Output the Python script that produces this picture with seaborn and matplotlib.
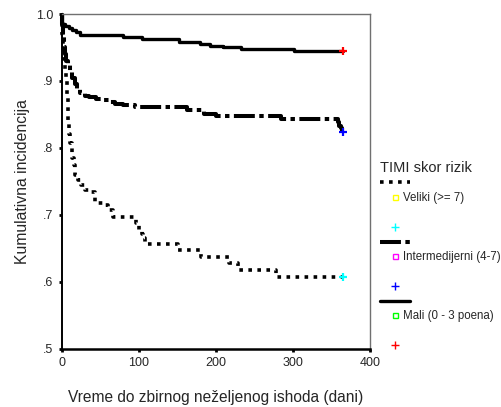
import numpy as np
import pandas as pd
import matplotlib
matplotlib.use("Agg")
import matplotlib.pyplot as plt
from matplotlib.lines import Line2D
import seaborn as sns

# Kaplan-Meier style step curves for the three TIMI risk groups
veliki_t = [0, 1, 2, 3, 4.5, 6, 7, 8, 9, 10, 11, 13, 14, 16, 18, 21, 25, 30, 38,
            43, 55, 60, 67, 97, 100, 104, 106, 108, 151, 181, 217, 229, 278, 365]
veliki_v = [1.0, 0.97, 0.95, 0.93, 0.916, 0.90, 0.88, 0.855, 0.835, 0.82, 0.807,
            0.795, 0.785, 0.775, 0.76, 0.752, 0.745, 0.737, 0.734, 0.717, 0.714,
            0.707, 0.697, 0.688, 0.678, 0.671, 0.665, 0.657, 0.647, 0.637, 0.628,
            0.618, 0.607, 0.607]

inter_t = [0, 1, 2, 3, 4, 6, 8, 11, 14, 17, 20, 24, 30, 35, 45, 52, 62, 69, 80,
           95, 163, 185, 200, 285, 358, 360, 362, 364, 365]
inter_v = [1.0, 0.985, 0.965, 0.95, 0.94, 0.93, 0.925, 0.915, 0.905, 0.895, 0.888,
           0.882, 0.878, 0.876, 0.873, 0.871, 0.869, 0.866, 0.864, 0.861, 0.856,
           0.851, 0.847, 0.843, 0.838, 0.833, 0.829, 0.824, 0.824]

mali_t = [0, 1, 5, 10, 14, 19, 24, 80, 104, 152, 180, 193, 209, 233, 302, 365]
mali_v = [1.0, 0.985, 0.982, 0.979, 0.976, 0.973, 0.969, 0.965, 0.9626, 0.9586,
          0.955, 0.9526, 0.9507, 0.947, 0.944, 0.944]

group_labels = ["Veliki (>= 7)", "Intermedijerni (4-7)", "Mali (0 - 3 poena)"]
x_ticks = [0, 100, 200, 300, 400]
y_ticks = [0.5, 0.6, 0.7, 0.8, 0.9, 1.0]
y_tick_labels = [".5", ".6", ".7", ".8", ".9", "1.0"]

sns.set_style("white")
plt.rcParams["font.family"] = ["Liberation Sans", "DejaVu Sans"]

fig = plt.figure(figsize=(5.01, 4.07), dpi=100)
ax = fig.add_axes([0.1228, 0.1432, 0.6157, 0.8224])

frames = [
    pd.DataFrame({"t": veliki_t, "v": veliki_v, "grupa": group_labels[0]}),
    pd.DataFrame({"t": inter_t, "v": inter_v, "grupa": group_labels[1]}),
    pd.DataFrame({"t": mali_t, "v": mali_v, "grupa": group_labels[2]}),
]
styles = [
    dict(lw=2.6, ls=(0, (1, 1.5))),
    dict(lw=2.9, ls=(0, (5.2, 1.1, 1.1, 1.1))),
    dict(lw=2.4, ls="-"),
]
censor_colors = ["#00ffff", "#0000ff", "#ff0000"]
square_colors = ["#ffff00", "#ff00ff", "#00ff00"]

for df, st, cc in zip(frames, styles, censor_colors):
    sns.lineplot(data=df, x="t", y="v", estimator=None, sort=True, ax=ax,
                 color="black", drawstyle="steps-post", clip_on=False,
                 legend=False, **st)
    ax.plot(df["t"].iloc[-1], df["v"].iloc[-1], marker="+", color=cc,
            ms=6, mew=1.6, ls="none", zorder=5, clip_on=False)

ax.set_xlim(0, 400)
ax.set_ylim(0.5, 1.0)
ax.set_xticks(x_ticks)
ax.set_xticklabels([str(v) for v in x_ticks])
ax.set_yticks(y_ticks)
ax.set_yticklabels(y_tick_labels)
ax.tick_params(axis="both", which="major", direction="out", length=2, width=2,
               color="black", labelsize=9, pad=4, bottom=True, left=True)

for side in ["top", "right"]:
    ax.spines[side].set_color("#707070")
    ax.spines[side].set_linewidth(1.0)
ax.spines["left"].set_color("black")
ax.spines["left"].set_linewidth(1.4)
ax.spines["bottom"].set_color("black")
ax.spines["bottom"].set_linewidth(1.8)

ax.set_xlabel("Vreme do zbirnog neželjenog ishoda (dani)", fontsize=11.2, labelpad=15)
ax.set_ylabel("Kumulativna incidencija", fontsize=11.3, labelpad=4)

# SPSS-like legend: line sample, group square, blank row, censor cross
blank = Line2D([], [], ls="none")
handles, labels = [], []
for st, sq, cc, lab in zip(styles, square_colors, censor_colors, group_labels):
    handles.append(Line2D([], [], color="black", lw=st["lw"], ls=st["ls"]))
    labels.append("")
    handles.append(Line2D([], [], ls="none", marker="s", ms=3.6, mfc="none",
                          mec=sq, mew=1.0))
    labels.append(lab)
    handles.append(blank)
    labels.append("")
    handles.append(Line2D([], [], ls="none", marker="+", ms=6, mec=cc, mew=1.0))
    labels.append("")

leg = ax.legend(handles, labels, title="TIMI skor rizik", loc="upper left",
                bbox_to_anchor=(0.758, 0.605), bbox_transform=fig.transFigure,
                frameon=False, fontsize=8.3, title_fontsize=10.5, handlelength=2.6,
                handletextpad=-0.6, labelspacing=0.24, borderpad=0, borderaxespad=0)
leg._legend_box.align = "left"

fig.savefig("out.png", dpi=100)
